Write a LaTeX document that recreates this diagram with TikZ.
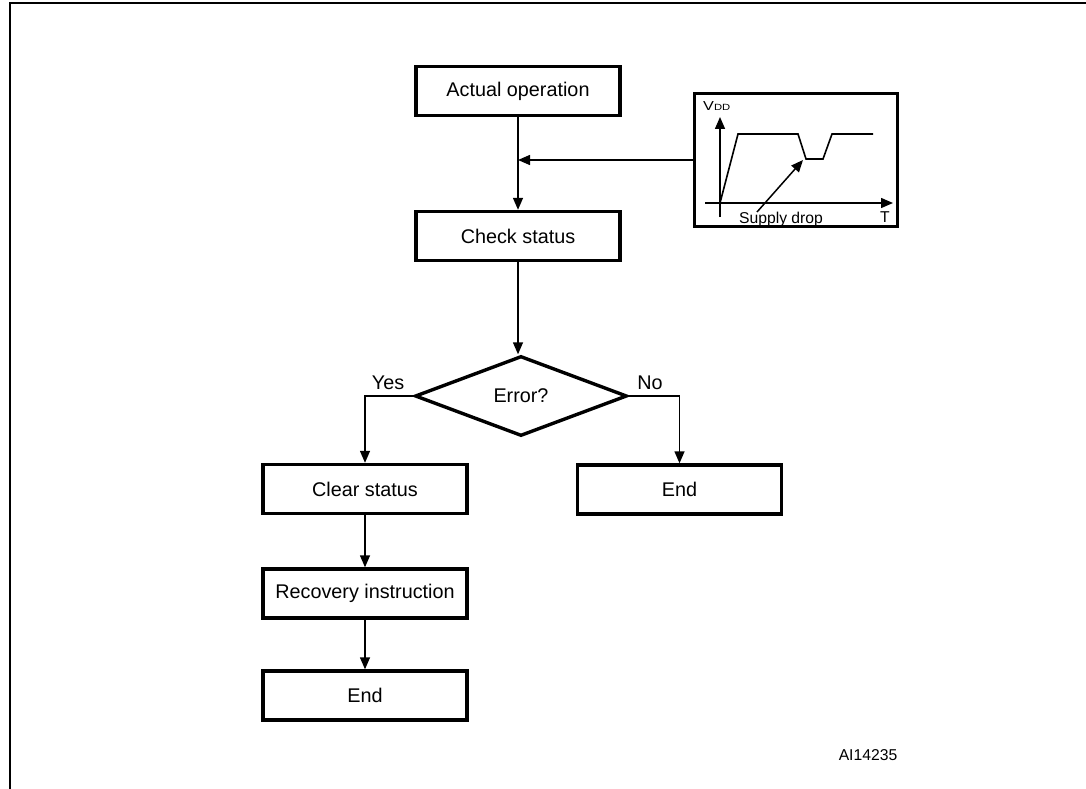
\documentclass[tikz,border=0pt]{standalone}
\usepackage{fontspec}
\setmainfont{Liberation Sans}
\usetikzlibrary{arrows.meta,shapes.geometric}
\begin{document}
\begin{tikzpicture}[x=1pt,y=-1pt,
  box/.style={draw,line width=3.4pt,rectangle,minimum width=204pt,minimum height=49pt,inner sep=0pt,font=\fontsize{19.8}{24}\selectfont},
  conn/.style={line width=1.4pt,-{Triangle[length=12pt,width=10pt]}},
  lbl/.style={inner sep=0pt,font=\fontsize{19.8}{24}\selectfont},
  small/.style={inner sep=0pt,font=\fontsize{15.7}{18}\selectfont}]
\useasboundingbox (0,0) rectangle (1086,789);
% frame
\draw[line width=2.5pt] (10,789) -- (10,3) -- (1086,3);
% nodes
\node[box] (op) at (518,91) {Actual operation};
\node[box] (check) at (518,236) {Check status};
\node[draw,line width=3.4pt,diamond,minimum width=212pt,minimum height=80pt,inner sep=0pt,font=\fontsize{19.8}{24}\selectfont] (err) at (521,396) {Error?};
\node[box] (clear) at (365,489) {Clear status};
\node[box] (rec) at (365,593.5) {Recovery instruction};
\node[box] (end1) at (365,695.5) {End};
\node[box] (end2) at (679.5,489.5) {End};
% graph box
\node[draw,line width=3.4pt,rectangle,minimum width=203pt,minimum height=133pt,inner sep=0pt] (graph) at (796,160) {};
\coordinate (j) at (518,160);
% connectors
\draw[conn] (op.south) -- (check.north);
\draw[conn] (graph.west) -- (j);
\draw[conn] (check.south) -- (check.south |- err.north);
\draw[conn] (err.west) -| (clear.north);
\draw[conn] (err.east) -| (end2.north);
\draw[conn] (clear.south) -- (rec.north);
\draw[conn] (rec.south) -- (end1.north);
% labels
\node[lbl] (yes) at (388,383) {Yes};
\node[lbl] (no) at (650,383) {No};
% graph contents
\draw[line width=1.5pt,-{Triangle[length=12pt,width=10pt]}] (720,217) -- (720,117);
\draw[line width=1.5pt,-{Triangle[length=12pt,width=10pt]}] (705,203) -- (893,203);
\draw[line width=1.6pt,line join=miter] (720,203) -- (738,134) -- (798,134) -- (806,159) -- (823,159) -- (832,134) -- (873,134);
\draw[line width=1.5pt,-{Triangle[length=12pt,width=10pt]}] (757,212) -- (803,160);
\node[inner sep=0pt,anchor=base west] (vdd) at (703,111) {\scalebox{1.25}[1]{\fontsize{13}{15}\selectfont V\fontsize{9}{11}\selectfont DD}};
\node[small,anchor=base] (sd) at (781,223) {Supply drop};
\node[small,anchor=base] (t) at (885,222) {T};
\node[small] (id) at (868,755) {AI14235};
\end{tikzpicture}
\end{document}
